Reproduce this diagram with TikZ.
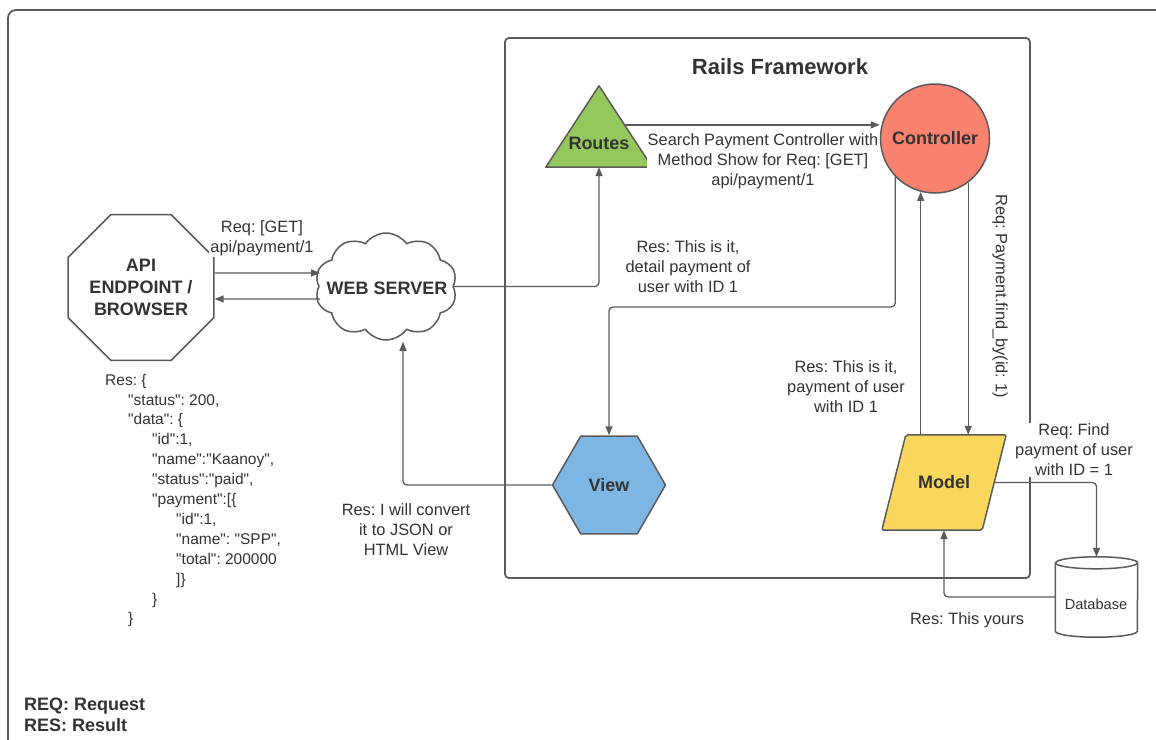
\documentclass[tikz,border=0pt]{standalone}
\usepackage{fontspec}
\setmainfont{Liberation Sans}[Ligatures=TeXOff]
\usetikzlibrary{arrows.meta,shapes.geometric,shapes.symbols,calc}
\frenchspacing

\definecolor{ink}{HTML}{333333}
\definecolor{wire}{HTML}{5A5A5A}
\definecolor{routegreen}{HTML}{94C85C}
\definecolor{ctrlred}{HTML}{F9826F}
\definecolor{viewblue}{HTML}{7DB5E3}
\definecolor{modelyellow}{HTML}{F9D75C}

\tikzset{
  edge/.style={draw=wire, line width=1.3pt},
  conn/.style={edge, rounded corners=4pt, -{Triangle[length=9pt,width=7pt]}},
  txt/.style={text=ink, font=\fontsize{16.4}{20}\selectfont, align=center, inner sep=1pt},
  lbl/.style={txt, fill=white},
  heavy/.style={text=ink, font=\bfseries\fontsize{18}{22}\selectfont, align=center},
  shapeline/.style={draw=wire, line width=1.5pt, line join=round},
}

\begin{document}
\begin{tikzpicture}[x=1pt,y=-1pt]
\useasboundingbox (0,0) rectangle (1156,739);
\clip (0,0) rectangle (1156,739);

% outer frame of the sheet
\draw[draw=wire, line width=1.8pt, rounded corners=8pt] (8,10) rectangle (1200,800);

% Rails container
\node[draw=wire, line width=1.8pt, rounded corners=4pt, minimum width=525pt,
      minimum height=540pt, inner sep=0pt] (rails) at (767.5,308) {};
\node[heavy, font=\bfseries\fontsize{22}{26}\selectfont] (railstitle) at (780,67) {Rails Framework};

% client
\node[shapeline, regular polygon, regular polygon sides=8, minimum size=147pt,
      inner sep=0pt, heavy] (api) at (141,287.5) {API\\ENDPOINT /\\BROWSER};

% web server
\node[shapeline, cloud, cloud puffs=10, cloud puff arc=110, cloud ignores aspect,
      minimum width=142pt, minimum height=107pt, inner sep=0pt] (web) at (386,286.5) {};
\node[heavy] (webtxt) at (387,288) {WEB SERVER};

% routes
\node[minimum width=106pt, minimum height=81pt, inner sep=0pt] (routes) at (599,126.5) {};
\path[shapeline, fill=routegreen] (routes.south west) -- (routes.north) -- (routes.south east) -- cycle;
\node[heavy] (routestxt) at (599,143) {Routes};

% controller
\node[shapeline, circle, fill=ctrlred, minimum size=109pt, inner sep=0pt, heavy]
      (controller) at (935,138.5) {Controller};

% view
\node[shapeline, regular polygon, regular polygon sides=6, minimum size=113pt,
      inner sep=0pt, fill=viewblue, heavy] (view) at (609,485) {View};

% model
\node[minimum width=124pt, minimum height=95pt, inner sep=0pt] (model) at (944,482.5) {};
\path[shapeline, fill=modelyellow, rounded corners=2pt]
  (model.south west) -- ($(model.south east)+(-24,0)$) -- (model.north east)
  -- ($(model.north west)+(24,0)$) -- cycle;
\node[heavy] (modeltxt) at (model) {Model};

% database
\node[minimum width=82pt, minimum height=80pt, inner sep=0pt] (db) at (1096.5,597) {};
\path[shapeline, fill=white]
  ($(db.north west)+(0,6)$) -- ($(db.south west)+(0,-6)$)
  arc[start angle=180, end angle=360, x radius=41pt, y radius=6pt]
  -- ($(db.north east)+(0,6)$)
  arc[start angle=0, end angle=180, x radius=41pt, y radius=6pt] -- cycle;
\draw[shapeline] ($(db.north west)+(0,6)$)
  arc[start angle=180, end angle=360, x radius=41pt, y radius=6pt];
\node[txt, font=\fontsize{14.6}{18}\selectfont] (dbtxt) at (1096,604) {Database};

% client <-> web server
\draw[conn] ($(api.east)+(0,-14.5)$) -- ($(web.west)+(2,-13.5)$);
\draw[conn] ($(web.west)+(2,12.5)$) -- ($(api.east)+(0,11.5)$);
\node[lbl] (reqget) at (262,238) {Req: [GET]\\api/payment/1};

% web server -> routes -> controller
\draw[conn] (web.east) -| (routes.south);
\draw[conn] ($(routes.north)!0.48!(routes.south east)$) coordinate (rr) -- (rr -| controller.west);
\node[lbl] (searchlbl) at (763,161) {Search Payment Controller with\\Method Show for Req: [GET]\\api/payment/1};

% controller -> view
\draw[conn] (controller.224) |- (view.north |- 0,307) -- (view.north);
\node[lbl] (detaillbl) at (688,267) {Res: This is it,\\detail payment of\\user with ID 1};

% controller <-> model
\draw[conn] (controller.307) -- (controller.307 |- model.north);
\draw[conn] (controller.255 |- model.north) -- (controller.255);
\node[lbl] (foundlbl) at (846,387) {Res: This is it,\\payment of user\\with ID 1};
\node[lbl, rotate=-90] (findlbl) at (1000,296) {Req: Payment.find\_by(id: 1)};

% model <-> database
\draw[conn] ($(model.east)+(-11,0)$) -| (db.north);
\node[lbl] (findreq) at (1074,450) {Req: Find\\payment of user\\with ID = 1};
\draw[conn] (db.west) -| (model.south);
\node[lbl] (yourslbl) at (967,620) {Res: This yours};

% view -> web server
\draw[conn] (view.west) -| ($(web.south)+(17,1)$);
\node[lbl] (convertlbl) at (406,530) {Res: I will convert\\it to JSON or\\HTML View};

% sample response
\node[txt, align=left, anchor=west, font=\fontsize{15.5}{19.9}\selectfont] (json) at (104,500.5) {%
Res: \{\\
\hspace*{23pt}"status": 200,\\
\hspace*{23pt}"data": \{\\
\hspace*{47pt}"id":1,\\
\hspace*{47pt}"name":"Kaanoy",\\
\hspace*{47pt}"status":"paid",\\
\hspace*{47pt}"payment":[\{\\
\hspace*{71pt}"id":1,\\
\hspace*{71pt}"name": "SPP",\\
\hspace*{71pt}"total": 200000\\
\hspace*{71pt}]\}\\
\hspace*{47pt}\}\\
\hspace*{23pt}\}};

% legend
\node[heavy, align=left, anchor=west, inner sep=1pt, font=\bfseries\fontsize{18}{21}\selectfont]
      (legend) at (23,714.5) {REQ: Request\\RES: Result};
\end{tikzpicture}
\end{document}
